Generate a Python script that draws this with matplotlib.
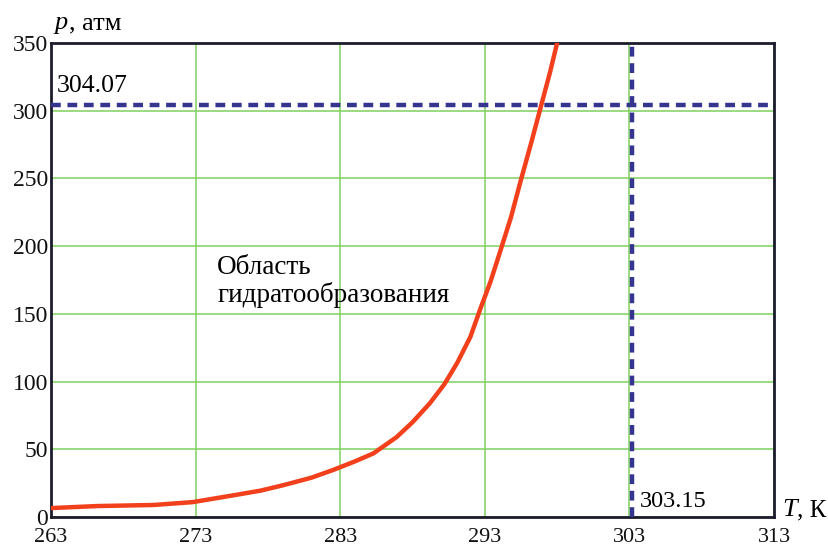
import numpy as np
import matplotlib.pyplot as plt

# hydrate formation curve
T = [263, 266.2, 270.1, 272.8, 275.6, 277.5, 279.1, 281.0, 282.5, 284.0, 285.3,
     286.9, 288.0, 289.2, 290.2, 291.1, 292.0, 292.7, 293.4, 294.0, 294.8,
     295.5, 296.2, 296.9, 297.5, 298.0, 298.3]
p = [6.6, 8.1, 8.9, 11.0, 16.0, 19.5, 23.6, 29.0, 34.7, 41.0, 47,
     59, 70, 84, 98, 114, 133, 154, 174, 194, 221,
     249, 276, 304, 328, 350, 365]

p_crit = 304.07
T_crit = 303.15

xticks = [263, 273, 283, 293, 303, 313]
yticks = [0, 50, 100, 150, 200, 250, 300, 350]

plt.rcParams['font.family'] = ['Liberation Serif', 'DejaVu Serif']

fig = plt.figure(figsize=(8.29, 5.47), dpi=100)
ax = fig.add_axes([0.0615, 0.0548, 0.8722, 0.8666])

ax.set_xlim(263, 313)
ax.set_ylim(0, 350)
ax.set_xticks(xticks)
ax.set_yticks(yticks)
ax.grid(True, color='#7fd05f', linewidth=1.1)
ax.set_axisbelow(True)
ax.tick_params(length=0, labelsize=17, colors='#111111')
ax.tick_params(axis='x', pad=8, labelsize=16)
ax.tick_params(axis='y', pad=2)
for lbl in ax.get_yticklabels():
    lbl.set_verticalalignment('center_baseline')
for s in ax.spines.values():
    s.set_color('#1c1c2c')
    s.set_linewidth(2)

ax.plot(T, p, color='#f2401c', linewidth=3.2, solid_capstyle='butt', zorder=3)
ax.axhline(p_crit, color='#35358f', linewidth=3.2, linestyle=(0, (2.2, 1.5)), zorder=4)
ax.axvline(T_crit, color='#35358f', linewidth=3.2, linestyle=(0, (2.2, 1.5)), zorder=4)

ax.text(263.4, p_crit + 6, '304.07', fontsize=18.5, ha='left', va='bottom')
ax.text(T_crit + 0.55, 4, '303.15', fontsize=17.5, ha='left', va='bottom')
ax.text(274.5, 154, 'Область\nгидратообразования', fontsize=19.5,
        ha='left', va='bottom', linespacing=1.1)

fig.text(0.066, 0.958, 'p', fontsize=19, style='italic', ha='left', va='center')
fig.text(0.083, 0.958, ', атм', fontsize=19, ha='left', va='center')
fig.text(0.944, 0.067, 'T', fontsize=19, style='italic', ha='left', va='center')
fig.text(0.962, 0.067, ', К', fontsize=18, ha='left', va='center')

fig.savefig('out.png', dpi=100)
